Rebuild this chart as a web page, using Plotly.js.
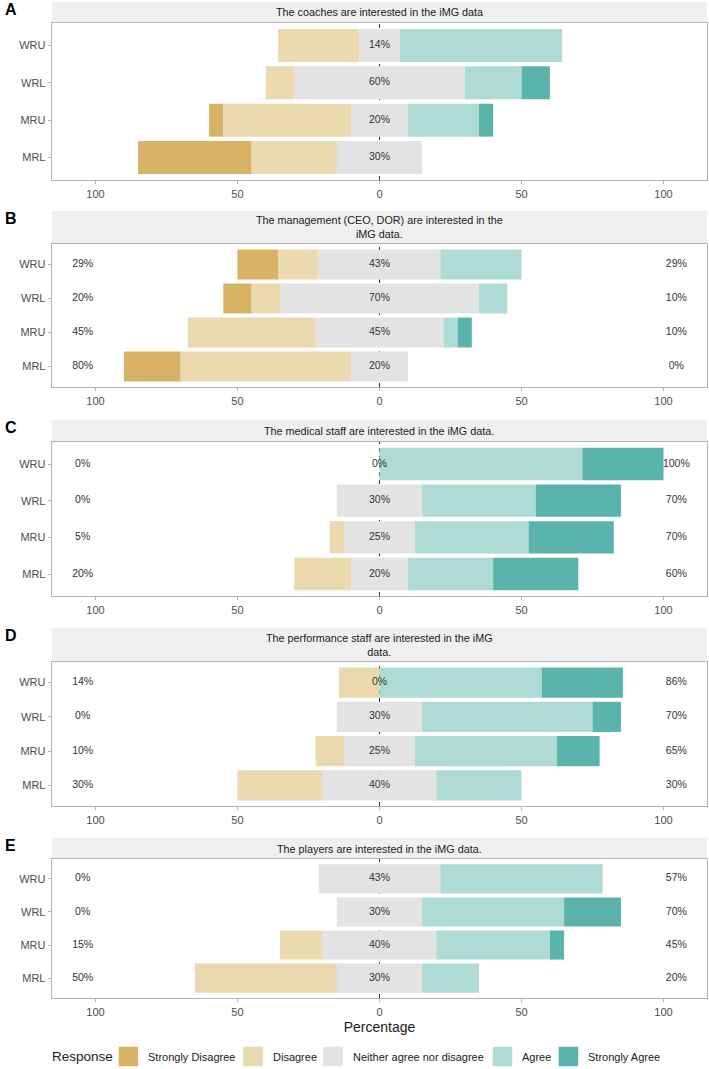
<!DOCTYPE html>
<html>
<head>
<meta charset="utf-8">
<script src="https://cdn.plot.ly/plotly-3.0.1.min.js"></script>
<style>
html,body{margin:0;padding:0;background:#fff;}
#chart{width:709px;height:1069px;}
</style>
</head>
<body>
<div id="chart"></div>
<script>
// ---------- DATA ----------
const rows = ['WRU', 'WRL', 'MRU', 'MRL'];
const responses = ['Strongly Disagree', 'Disagree', 'Neither agree nor disagree', 'Agree', 'Strongly Agree'];
const panelLetters = ['A', 'B', 'C', 'D', 'E'];
const panelTitles = [
  'The coaches are interested in the iMG data',
  'The management (CEO, DOR) are interested in the<br>iMG data.',
  'The medical staff are interested in the iMG data.',
  'The performance staff are interested in the iMG<br>data.',
  'The players are interested in the iMG data.'
];
const showSideLabels = [false, true, true, true, true];

// percentages per row (WRU, WRL, MRU, MRL)
const A_stronglyDisagree = [0, 0, 5, 40];
const A_disagree         = [28.57, 10, 45, 30];
const A_neutral          = [14.29, 60, 20, 30];
const A_agree            = [57.14, 20, 25, 0];
const A_stronglyAgree    = [0, 10, 5, 0];

const B_stronglyDisagree = [14.29, 10, 0, 20];
const B_disagree         = [14.29, 10, 45, 60];
const B_neutral          = [42.86, 70, 45, 20];
const B_agree            = [28.57, 10, 5, 0];
const B_stronglyAgree    = [0, 0, 5, 0];

const C_stronglyDisagree = [0, 0, 0, 0];
const C_disagree         = [0, 0, 5, 20];
const C_neutral          = [0, 30, 25, 20];
const C_agree            = [71.43, 40, 40, 30];
const C_stronglyAgree    = [28.57, 30, 30, 30];

const D_stronglyDisagree = [0, 0, 0, 0];
const D_disagree         = [14.29, 0, 10, 30];
const D_neutral          = [0, 30, 25, 40];
const D_agree            = [57.14, 60, 50, 30];
const D_stronglyAgree    = [28.57, 10, 15, 0];

const E_stronglyDisagree = [0, 0, 0, 0];
const E_disagree         = [0, 0, 15, 50];
const E_neutral          = [42.86, 30, 40, 30];
const E_agree            = [57.14, 50, 40, 20];
const E_stronglyAgree    = [0, 20, 5, 0];

const xTickVals = [-100, -50, 0, 50, 100];
const xTickText = ['100', '50', '0', '50', '100'];

// ---------- STYLE / LAYOUT ----------
const colors = ['#D8B365', '#EBD9B0', '#E3E3E3', '#AFDBD6', '#5AB4AC'];
const FONT = '"Liberation Sans", Arial, Helvetica, sans-serif';
const W = 709, H = 1069;
const px2y = p => 1 - p / H;
const plotLeft = 52, plotRight = 707;
// pixel geometry per panel: [stripTop, plotTop, plotBottom]
const geom = [
  [2, 23, 180],
  [211, 244, 387],
  [420, 442, 596],
  [628, 662, 806],
  [838, 859, 998]
];
// legend layout (pixels)
const legendKeyLeft = [118.7, 243.3, 323.3, 492.7, 558.7];
const legendKeySize = 19.5, legendCenterY = 1056.5, legendTitleX = 50;

const panelData = [
  [A_stronglyDisagree, A_disagree, A_neutral, A_agree, A_stronglyAgree],
  [B_stronglyDisagree, B_disagree, B_neutral, B_agree, B_stronglyAgree],
  [C_stronglyDisagree, C_disagree, C_neutral, C_agree, C_stronglyAgree],
  [D_stronglyDisagree, D_disagree, D_neutral, D_agree, D_stronglyAgree],
  [E_stronglyDisagree, E_disagree, E_neutral, E_agree, E_stronglyAgree]
];

const traces = [];
const shapes = [];
const annotations = [];
const layout = {
  width: W, height: H,
  margin: {l: 0, r: 0, t: 0, b: 0},
  paper_bgcolor: '#fff', plot_bgcolor: '#fff',
  barmode: 'overlay',
  font: {family: FONT, color: '#1A1A1A'},
  showlegend: false
};

panelData.forEach((d, i) => {
  const n = i + 1;
  const xa = 'x' + (n === 1 ? '' : n), ya = 'y' + (n === 1 ? '' : n);
  const [sd, dis, neu, agr, sa] = d;
  // diverging layout: neutral centred on zero
  const bases = [
    sd.map((v, k) => -(neu[k] / 2 + dis[k] + v)),
    dis.map((v, k) => -(neu[k] / 2 + v)),
    neu.map(v => -v / 2),
    neu.map(v => v / 2),
    agr.map((v, k) => neu[k] / 2 + v)
  ];
  d.forEach((vals, c) => {
    traces.push({type: 'bar', orientation: 'h', y: rows, x: vals, base: bases[c],
      xaxis: xa, yaxis: ya, name: responses[c], showlegend: false, hoverinfo: 'skip',
      width: 0.88, marker: {color: colors[c], line: {width: 0}}});
  });

  // center labels
  traces.push({type: 'scatter', mode: 'text', x: rows.map(() => 0), y: rows,
    text: neu.map(v => Math.round(v) + '%'), xaxis: xa, yaxis: ya, showlegend: false,
    hoverinfo: 'skip', cliponaxis: false, textfont: {size: 10.5, color: '#333333', family: FONT}});
  if (showSideLabels[i]) {
    traces.push({type: 'scatter', mode: 'text', x: rows.map(() => -104.5), y: rows,
      text: sd.map((v, k) => Math.round(v + dis[k]) + '%'), xaxis: xa, yaxis: ya, showlegend: false,
      hoverinfo: 'skip', cliponaxis: false, textfont: {size: 10.5, color: '#333333', family: FONT}});
    traces.push({type: 'scatter', mode: 'text', x: rows.map(() => 104.5), y: rows,
      text: agr.map((v, k) => Math.round(v + sa[k]) + '%'), xaxis: xa, yaxis: ya, showlegend: false,
      hoverinfo: 'skip', cliponaxis: false, textfont: {size: 10.5, color: '#333333', family: FONT}});
  }

  const [sTop, pTop, pBot] = geom[i];
  const xKey = 'xaxis' + (n === 1 ? '' : n), yKey = 'yaxis' + (n === 1 ? '' : n);
  layout[xKey] = {
    domain: [plotLeft / W, plotRight / W], anchor: ya,
    range: [-115.3, 115.3], tickvals: xTickVals, ticktext: xTickText,
    ticks: 'outside', ticklen: 3, tickcolor: '#B3B3B3', tickwidth: 1,
    showline: true, mirror: true, linecolor: '#B3B3B3', linewidth: 1.3,
    zeroline: false, showgrid: false, fixedrange: true,
    tickfont: {size: 11, color: '#4D4D4D', family: FONT}
  };
  if (n === 5) {
    layout[xKey].title = {text: 'Percentage', standoff: 5, font: {size: 14, color: '#1A1A1A', family: FONT}};
  }
  layout[yKey] = {
    domain: [px2y(pBot), px2y(pTop)], anchor: xa,
    type: 'category', categoryorder: 'array', categoryarray: rows.slice().reverse(),
    range: [-0.6, 3.6],
    ticks: 'outside', ticklen: 3, tickcolor: '#B3B3B3', tickwidth: 1,
    showline: true, mirror: true, linecolor: '#B3B3B3', linewidth: 1.3,
    zeroline: false, showgrid: false, fixedrange: true,
    tickfont: {size: 11, color: '#4D4D4D', family: FONT}
  };

  // strip
  shapes.push({type: 'rect', xref: 'paper', yref: 'paper',
    x0: plotLeft / W, x1: plotRight / W, y0: px2y(pTop), y1: px2y(sTop),
    fillcolor: '#F0F0F0', line: {width: 0}, layer: 'below'});
  annotations.push({xref: 'paper', yref: 'paper', x: (plotLeft + plotRight) / 2 / W,
    y: px2y((sTop + pTop) / 2), text: panelTitles[i], showarrow: false,
    xanchor: 'center', yanchor: 'middle', align: 'center',
    font: {size: 10.8, color: '#1A1A1A', family: FONT}});
  // panel letter
  annotations.push({xref: 'paper', yref: 'paper', x: 3 / W, y: px2y(sTop + 7),
    text: '<b>' + panelLetters[i] + '</b>', showarrow: false, xanchor: 'left', yanchor: 'middle',
    font: {size: 16, color: '#000', family: FONT}});
  // dashed zero line (drawn below the bars)
  shapes.push({type: 'line', xref: xa, yref: ya, x0: 0, x1: 0, y0: -0.6, y1: 3.6,
    line: {color: '#333333', width: 1, dash: '4px,4px'}, layer: 'below'});
});

// manual legend (ggplot-style keys)
annotations.push({xref: 'paper', yref: 'paper', x: legendTitleX / W, y: px2y(legendCenterY),
  text: 'Response', showarrow: false, xanchor: 'left', yanchor: 'middle',
  font: {size: 13.5, color: '#1A1A1A', family: FONT}});
responses.forEach((r, k) => {
  shapes.push({type: 'rect', xref: 'paper', yref: 'paper',
    x0: legendKeyLeft[k] / W, x1: (legendKeyLeft[k] + legendKeySize) / W,
    y0: px2y(legendCenterY + legendKeySize / 2), y1: px2y(legendCenterY - legendKeySize / 2),
    fillcolor: colors[k], line: {width: 0}});
  annotations.push({xref: 'paper', yref: 'paper', x: (legendKeyLeft[k] + legendKeySize + 8) / W,
    y: px2y(legendCenterY), text: r, showarrow: false, xanchor: 'left', yanchor: 'middle',
    font: {size: 11, color: '#1A1A1A', family: FONT}});
});

layout.shapes = shapes;
layout.annotations = annotations;

Plotly.newPlot('chart', traces, layout, {staticPlot: true, displayModeBar: false});
</script>
</body>
</html>
